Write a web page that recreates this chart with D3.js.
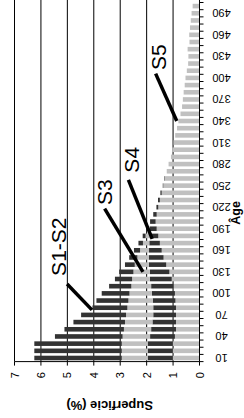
<!DOCTYPE html>
<html><head><meta charset="utf-8">
<script src="https://cdn.jsdelivr.net/npm/d3@7"></script>
<style>html,body{margin:0;padding:0;background:#fff;} svg{display:block;}</style>
</head><body><svg id="c" width="244" height="418"></svg>
<script>
// Categories: age classes
const ages = [10,20,30,40,50,60,70,80,90,100,110,120,130,140,150,160,170,180,190,200,
  210,220,230,240,250,260,270,280,290,300,310,320,330,340,350,360,370,380,390,400,
  410,420,430,440,450,460,470,480,490,500];
// Stacked series (Superficie %), stacked from 0 in this order: S5, S4, S3, S1-S2
const s5 = [1.01,1.01,1.01,0.93,0.89,0.89,0.89,0.89,0.91,0.93,0.98,1.05,1.14,1.26,1.36,1.43,1.50,1.56,1.62,1.66,
  1.62,1.56,1.50,1.43,1.37,1.31,1.24,1.17,1.08,1.03,0.98,0.92,0.85,0.80,0.72,0.66,0.63,0.60,0.56,0.53,
  0.48,0.43,0.42,0.45,0.38,0.39,0.36,0.33,0.30,0.26];
const s4 = [0.95,0.95,0.95,0.94,0.94,0.89,0.86,0.86,0.86,0.87,0.85,0.83,0.74,0.66,0.56,0.48,0.40,0.33,0.26,0.21,
  0.13,0.07,0.07,0.05,0.02,0.02,0,0,0,0,0,0,0,0,0,0,0,0,0,0,
  0,0,0,0,0,0,0,0,0,0];
const s3 = [0.98,0.98,0.98,1.04,1.03,1.04,1.03,0.98,0.92,0.85,0.75,0.67,0.62,0.53,0.43,0.34,0.24,0.15,0.08,0,
  0,0,0,0,0,0,0,0,0,0,0,0,0,0,0,0,0,0,0,0,
  0,0,0,0,0,0,0,0,0,0];
const s12 = [3.31,3.31,3.31,2.56,2.25,1.95,1.70,1.32,1.21,1.05,0.84,0.65,0.54,0.37,0.31,0.23,0.17,0.11,0.05,0,
  0,0,0,0,0,0,0,0,0,0,0,0,0,0,0,0,0,0,0,0,
  0,0,0,0,0,0,0,0,0,0];
const seriesNames = ["S5","S4","S3","S1-S2"];
const seriesColors = ["#c0c0c0","#333333","#c0c0c0","#333333"];
const valueTicks = [0,1,2,3,4,5,6,7];
const ageTickLabels = [10,40,70,100,130,160,190,220,250,280,310,340,370,400,430,460,490];
// Annotations: label position and pointer line, in data units (age, value)
const annotations = [
  {label:"S1-S2", age:165, value:5.35, from:[113,5.01], to:[77,4.07]},
  {label:"S3",    age:241, value:3.58, from:[218,3.59], to:[130,2.14]},
  {label:"S4",    age:286, value:2.59, from:[258,2.69], to:[176,1.79]},
  {label:"S5",    age:429, value:1.57, from:[406,1.66], to:[340,0.86]}
];

const FONT = "'Liberation Sans', Arial, sans-serif";
const svg = d3.select("#c");
const plotBottom = 361.6, plotTop = 2.5;
const x = d3.scaleLinear().domain([0,7]).range([199.5, 14.5]);
const y = d3.scaleBand().domain(ages).range([plotBottom, plotTop]).paddingInner(0.36).paddingOuter(0.18);
const bw = y.bandwidth();
const ageLin = d3.scaleLinear().domain([ages[0], ages[ages.length-1]])
  .range([y(ages[0]) + bw/2, y(ages[ages.length-1]) + bw/2]);

// gridlines
svg.append("g").selectAll("line").data(valueTicks.slice(1)).join("line")
  .attr("x1", d => x(d)).attr("x2", d => x(d)).attr("y1", 0).attr("y2", plotBottom)
  .attr("stroke", "#000").attr("stroke-width", 1);

// stacked bars
const table = ages.map((a,i) => ({age:a, "S5":s5[i], "S4":s4[i], "S3":s3[i], "S1-S2":s12[i]}));
const stack = d3.stack().keys(seriesNames)(table);
stack.forEach((layer, li) => {
  svg.append("g").attr("fill", seriesColors[li]).selectAll("rect")
    .data(layer.filter(d => d[1] - d[0] > 0)).join("rect")
    .attr("x", d => x(d[1])).attr("width", d => x(d[0]) - x(d[1]))
    .attr("y", d => y(d.data.age)).attr("height", bw);
});

// age axis (right)
const ga = svg.append("g").attr("stroke", "#000").attr("stroke-width", 1);
ga.append("line").attr("x1", x(0)).attr("x2", x(0)).attr("y1", 0).attr("y2", plotBottom);
const step = y.step();
const bounds = ages.map(a => y(a) + bw/2 + step/2).concat([y(ages[ages.length-1]) + bw/2 - step/2]);
ga.selectAll(".t").data(bounds).join("line").attr("class","t")
  .attr("x1", x(0)).attr("x2", x(0) + 4).attr("y1", d => d).attr("y2", d => d);
svg.append("g").selectAll("text").data(ageTickLabels).join("text")
  .attr("transform", d => `translate(${x(0) + 22},${y(d) + bw/2}) rotate(180)`)
  .attr("text-anchor", "middle").attr("dominant-baseline", "central")
  .attr("font-family", FONT).attr("font-size", 11).attr("fill", "#000").text(d => d);

// value axis (bottom)
const gv = svg.append("g").attr("stroke", "#000").attr("stroke-width", 1);
gv.append("line").attr("x1", x(7)).attr("x2", x(0)).attr("y1", plotBottom).attr("y2", plotBottom);
gv.selectAll(".t").data(valueTicks).join("line").attr("class","t")
  .attr("x1", d => x(d)).attr("x2", d => x(d)).attr("y1", plotBottom).attr("y2", plotBottom + 4);
svg.append("g").selectAll("text").data(valueTicks).join("text")
  .attr("transform", d => `translate(${x(d)},${plotBottom + 13.5}) rotate(-90)`)
  .attr("text-anchor", "middle").attr("dominant-baseline", "central")
  .attr("font-family", FONT).attr("font-size", 11).attr("fill", "#000").text(d => d);

// axis titles
svg.append("text").attr("transform", `translate(${x(3.4)},405) rotate(180)`)
  .attr("text-anchor", "middle").attr("dominant-baseline", "central")
  .attr("font-family", FONT).attr("font-size", 13).attr("font-weight", "bold").text("Superficie (%)");
svg.append("text").attr("transform", `translate(236,${ageLin(212)}) rotate(-90)`)
  .attr("text-anchor", "middle").attr("dominant-baseline", "central")
  .attr("font-family", FONT).attr("font-size", 12.5).attr("font-weight", "bold").text("Âge");

// annotations
const gn = svg.append("g");
gn.selectAll("line").data(annotations).join("line")
  .attr("x1", d => x(d.from[1])).attr("y1", d => ageLin(d.from[0]))
  .attr("x2", d => x(d.to[1])).attr("y2", d => ageLin(d.to[0]))
  .attr("stroke", "#000").attr("stroke-width", 3.5);
gn.selectAll("text").data(annotations).join("text")
  .attr("transform", d => `translate(${x(d.value)},${ageLin(d.age)}) rotate(-90)`)
  .attr("text-anchor", "middle").attr("dominant-baseline", "central")
  .attr("font-family", FONT).attr("font-size", 21).attr("fill", "#000").text(d => d.label);
</script></body></html>
